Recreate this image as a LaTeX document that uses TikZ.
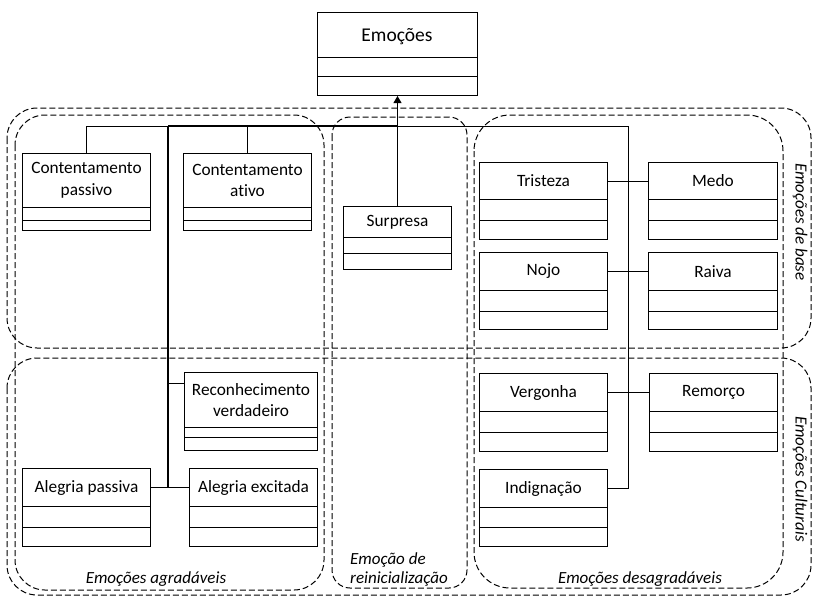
\documentclass[tikz,border=0pt]{standalone}
\usepackage{fontspec}
\setmainfont{Carlito}[Ligatures=NoCommon]
\usetikzlibrary{arrows.meta}
\tikzset{
  outer/.style={draw, line width=1pt, inner sep=0pt},
  titlebox/.style={draw, line width=1pt, inner sep=0pt, align=center, font=\fontsize{17.3}{21.5}\selectfont},
  boxline/.style={line width=1pt},
  conn/.style={line width=1pt},
  trunk/.style={line width=2.2pt},
  region/.style={line width=1pt, dash pattern=on 6pt off 3pt},
  rlabel/.style={font=\fontsize{17}{21}\selectfont\itshape, inner sep=0pt},
}
\newcommand{\umlbox}[8]{%
  \node[outer, minimum width={(#4-#2)*1pt}, minimum height={(#7-#3)*1pt}, anchor=north west] (#1-box) at (#2,#3) {};
  \node[titlebox, minimum width={(#4-#2)*1pt}, minimum height={(#5-#3)*1pt}, anchor=north west] (#1) at (#2,#3) {#8};
  \draw[boxline] (#2,#6) -- (#4,#6);
}
\begin{document}
\begin{tikzpicture}[x=1pt,y=-1pt]
\useasboundingbox (0,0) rectangle (813,598);
\fill[white] (0,0) rectangle (813,598);
% regions
\draw[region, rounded corners=30pt] (7,108) rectangle (811,348);
\draw[region, rounded corners=30pt] (7,358) rectangle (811,595);
\draw[region, rounded corners=30pt] (15,115) rectangle (324,590);
\draw[region, rounded corners=18pt] (332,117) rectangle (467,588);
\draw[region, rounded corners=36pt] (474,115) rectangle (783,588);
% region labels
\node[rlabel, rotate=-90] (lbase) at (800,222) {Emoções de base};
\node[rlabel, rotate=-90] (lcult) at (800,479) {Emoções Culturais};
\node[rlabel] (lagr) at (156,579) {Emoções agradáveis};
\node[rlabel, anchor=west, align=left, font=\fontsize{17}{19}\selectfont\itshape] (lrei) at (350,569) {Emoção de\\reinicialização};
\node[rlabel] (ldes) at (640,579) {Emoções desagradáveis};
% boxes: name, x1, y1, x2, d1, d2, y2, text
\node[outer, minimum width=160pt, minimum height=83pt, anchor=north west] (emo-box) at (317,12) {};
\node[titlebox, minimum width=160pt, minimum height=45pt, anchor=north west] (emo) at (317,12) {};
\node[font=\fontsize{19.5}{22}\selectfont, inner sep=0pt] (emot) at (397,37) {Emoções};
\draw[boxline] (317,76) -- (477,76);
\umlbox{cp}{22}{153}{150}{207}{220}{230}{Contentamento\\passivo}
\umlbox{ca}{183}{153}{311}{207}{220}{230}{Contentamento\\ativo}
\umlbox{sur}{343}{206}{451}{237}{253}{269}{Surpresa}
\umlbox{tri}{479}{162}{607}{199}{220}{239}{Tristeza}
\umlbox{med}{648}{162}{777}{199}{220}{239}{Medo}
\umlbox{noj}{479}{252}{607}{290}{311}{329}{Nojo}
\umlbox{rai}{648}{252}{777}{290}{311}{329}{Raiva}
\umlbox{ver}{479}{373}{607}{411}{432}{451}{Vergonha}
\umlbox{rem}{649}{373}{777}{411}{432}{451}{Remorço}
\umlbox{ind}{479}{469}{607}{507}{527}{546}{Indignação}
\umlbox{rv}{184}{372}{317}{427}{437}{450}{Reconhecimento\\verdadeiro}
\umlbox{ap}{22}{468}{150}{506}{527}{546}{Alegria passiva}
\umlbox{ae}{189}{468}{317}{506}{527}{546}{Alegria excitada}
% connectors
\coordinate (hub) at (397,126);
\coordinate (lt) at (168,126);
\coordinate (rt) at (628,126);
\coordinate (rvj) at ([yshift=-11pt]rv.north west);
\draw[conn] (cp.north) |- (lt);
\draw[conn] (ca.north) -- (ca.north |- lt);
\draw[trunk] (lt) -- (hub);
\draw[trunk] (lt) -- (lt |- ap.east);
\draw[conn] (ap.east) -- (ae.west);
\draw[conn] (lt |- rvj) -- (rvj);
\draw[conn] (hub) -- (rt) -- (rt |- ind.east) -- (ind.east);
\draw[conn] (tri.east) -- (med.west);
\draw[conn] (noj.east) -- (rai.west);
\draw[conn] (ver.east) -- (rem.west);
\draw[conn, -{Triangle[width=8pt,length=7pt]}] (sur.north) -- (emo-box.south);
\end{tikzpicture}
\end{document}
